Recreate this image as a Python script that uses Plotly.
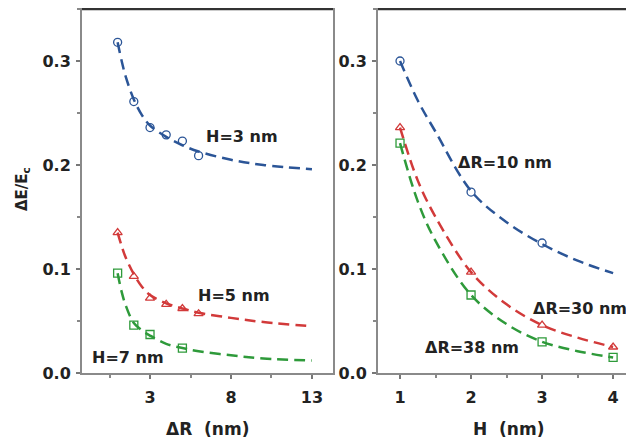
import plotly.graph_objects as go

# ---- Left panel data (ΔE/Ec vs ΔR) ----
dr_h3_pts = [1, 2, 3, 4, 5, 6]
e_h3_pts = [0.318, 0.261, 0.236, 0.229, 0.223, 0.209]
dr_h5_pts = [1, 2, 3, 4, 5, 6]
e_h5_pts = [0.135, 0.093, 0.072, 0.066, 0.062, 0.057]
dr_h7_pts = [1, 2, 3, 5]
e_h7_pts = [0.096, 0.046, 0.037, 0.024]

dr_curve = [1, 1.25, 1.5, 2, 2.5, 3, 4, 5, 6, 8, 10, 13]
e_h3_curve = [0.318, 0.300, 0.285, 0.263, 0.248, 0.238, 0.227, 0.219, 0.213, 0.205, 0.200, 0.196]
e_h5_curve = [0.135, 0.122, 0.111, 0.095, 0.083, 0.075, 0.067, 0.062, 0.058, 0.053, 0.049, 0.045]
e_h7_curve = [0.096, 0.078, 0.065, 0.048, 0.041, 0.036, 0.028, 0.024, 0.021, 0.017, 0.014, 0.012]

# ---- Right panel data (ΔE/Ec vs H) ----
h_pts_blue = [1, 2, 3]
e_r10_pts = [0.300, 0.174, 0.125]
h_pts = [1, 2, 3, 4]
e_r30_pts = [0.236, 0.097, 0.046, 0.025]
e_r38_pts = [0.221, 0.075, 0.030, 0.015]

h_curve = [1, 1.25, 1.5, 2, 2.5, 3, 3.5, 4]
e_r10_curve = [0.300, 0.262, 0.232, 0.175, 0.145, 0.124, 0.108, 0.096]
e_r30_curve = [0.236, 0.185, 0.150, 0.097, 0.066, 0.046, 0.034, 0.025]
e_r38_curve = [0.221, 0.165, 0.127, 0.075, 0.047, 0.030, 0.021, 0.015]

BLUE = "#2B5597"
RED = "#D23A3A"
GREEN = "#2E9A3A"
FONT = "DejaVu Sans"
TXT = "#222"

# The page body has an 8px margin, so the figure is drawn at (8, 8) in the window.
OFF = 8
W, Hh = 634 - OFF, 438 - OFF

def px(X, Y):
    return (X - OFF) / W, 1 - (Y - OFF) / Hh

fig = go.Figure()

def add(x, y, color, symbol, xa, ya, curve=True):
    if curve:
        fig.add_trace(go.Scatter(x=x, y=y, mode="lines", xaxis=xa, yaxis=ya,
                                 line=dict(color=color, width=2.5, dash="11px,6px", shape="spline"),
                                 showlegend=False, hoverinfo="skip"))
    else:
        fig.add_trace(go.Scatter(x=x, y=y, mode="markers", xaxis=xa, yaxis=ya,
                                 marker=dict(symbol=symbol, size=8, color=color,
                                             line=dict(width=1.3, color=color)),
                                 showlegend=False))

add(dr_curve, e_h3_curve, BLUE, None, "x", "y")
add(dr_curve, e_h5_curve, RED, None, "x", "y")
add(dr_curve, e_h7_curve, GREEN, None, "x", "y")
add(dr_h3_pts, e_h3_pts, BLUE, "circle-open", "x", "y", False)
add(dr_h5_pts, e_h5_pts, RED, "triangle-up-open", "x", "y", False)
add(dr_h7_pts, e_h7_pts, GREEN, "square-open", "x", "y", False)

add(h_curve, e_r10_curve, BLUE, None, "x2", "y2")
add(h_curve, e_r30_curve, RED, None, "x2", "y2")
add(h_curve, e_r38_curve, GREEN, None, "x2", "y2")
add(h_pts_blue, e_r10_pts, BLUE, "circle-open", "x2", "y2", False)
add(h_pts, e_r30_pts, RED, "triangle-up-open", "x2", "y2", False)
add(h_pts, e_r38_pts, GREEN, "square-open", "x2", "y2", False)

tickfont = dict(family=FONT, size=16, color=TXT, weight="bold")
axcommon = dict(showgrid=False, zeroline=False, showline=True, linecolor="#8a8a8a",
                linewidth=2, mirror=True, ticks="outside", ticklen=4, tickwidth=1.5,
                tickcolor="#777", tickfont=tickfont, automargin=False)

ybot = px(0, 373)[1]
ytop = px(0, 9)[1]
ydom = [ybot, ytop]
lx0, lx1 = px(82, 0)[0], px(333, 0)[0]
rx0, rx1 = px(378, 0)[0], px(633, 0)[0]

fig.update_layout(
    width=W, height=Hh,
    margin=dict(l=0, r=0, t=0, b=0),
    paper_bgcolor="white", plot_bgcolor="white",
    xaxis=dict(domain=[lx0, lx1], range=[-1.2, 14.3], tick0=3, dtick=5,
               minor=dict(tick0=0.5, dtick=2.5, ticks="outside", ticklen=3, tickcolor="#888"),
               anchor="y", ticklabelstandoff=5, **axcommon),
    yaxis=dict(domain=ydom, range=[0, 0.35], dtick=0.1, tickformat=".1f",
               minor=dict(dtick=0.05, ticks="outside", ticklen=3, tickcolor="#888"),
               anchor="x", ticklabelstandoff=2, **axcommon),
    xaxis2=dict(domain=[rx0, rx1], range=[0.69, 4.28], dtick=1,
                minor=dict(dtick=0.5, ticks="outside", ticklen=3, tickcolor="#888"),
                anchor="y2", ticklabelstandoff=5, **axcommon),
    yaxis2=dict(domain=ydom, range=[0, 0.35], dtick=0.1, tickformat=".1f",
                minor=dict(dtick=0.05, ticks="outside", ticklen=3, tickcolor="#888"),
                anchor="x2", ticklabelstandoff=2, **axcommon),
)

# darker top frame lines
for a, b in [(lx0, lx1), (rx0, rx1)]:
    fig.add_shape(type="line", xref="paper", yref="paper", x0=a, x1=b, y0=ytop, y1=ytop,
                  line=dict(color="#333", width=2.5))

# axis titles (pixel-placed in paper coords)
titlefont = dict(family=FONT, size=17, color=TXT, weight="bold")
x, y = px(22, 189)
fig.add_annotation(text="ΔE/E<sub>c</sub>", xref="paper", yref="paper",
                   x=x, y=y, xanchor="center", yanchor="middle", textangle=-90, showarrow=False,
                   font=dict(family=FONT, size=15, color=TXT, weight="bold"))
x, y = px(207, 429)
fig.add_annotation(text="ΔR  (nm)", xref="paper", yref="paper",
                   x=x, y=y, xanchor="center", yanchor="middle", showarrow=False, font=titlefont)
x, y = px(508, 429)
fig.add_annotation(text="H  (nm)", xref="paper", yref="paper",
                   x=x, y=y, xanchor="center", yanchor="middle", showarrow=False, font=titlefont)

annfont = dict(family=FONT, size=16, color=TXT, weight="bold")
anns = [
    ("H=3 nm", "x", "y", 8.7, 0.227),
    ("H=5 nm", "x", "y", 8.2, 0.075),
    ("H=7 nm", "x", "y", 1.65, 0.0145),
    ("ΔR=10 nm", "x2", "y2", 2.48, 0.202),
    ("ΔR=30 nm", "x2", "y2", 3.535, 0.0625),
    ("ΔR=38 nm", "x2", "y2", 2.01, 0.025),
]
for text, xr, yr, x, y in anns:
    fig.add_annotation(text=text, xref=xr, yref=yr, x=x, y=y, xanchor="center",
                       yanchor="middle", showarrow=False, font=annfont)

fig.write_html("out.html")
